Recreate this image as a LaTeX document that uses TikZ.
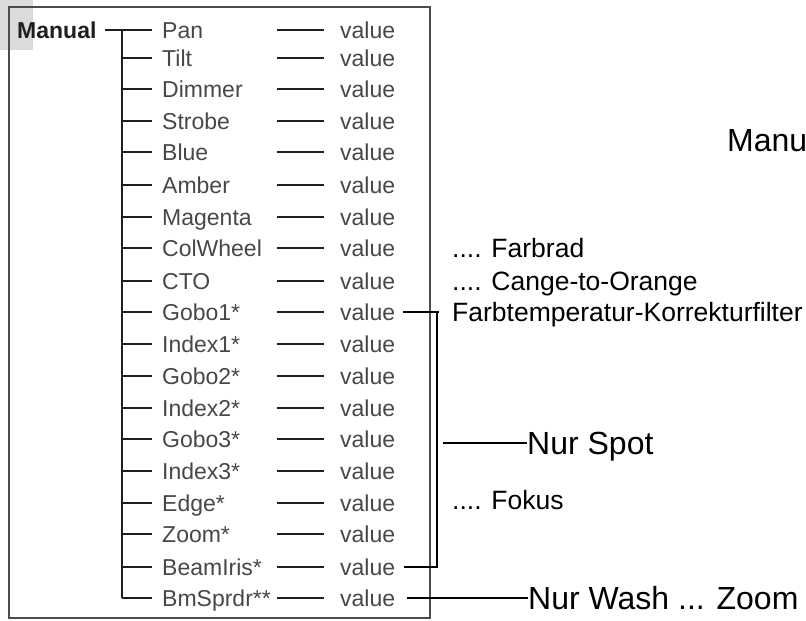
\documentclass[tikz,border=0pt]{standalone}
\usepackage{fontspec}
\setmainfont{Liberation Sans}
\begin{document}
\begin{tikzpicture}[x=1pt,y=-1pt,
  frame/.style={draw=black!70,line width=2pt},
  tree/.style={draw=black!88,line width=2pt},
  link/.style={draw=black,line width=2pt},
  treelbl/.style={inner sep=0pt,anchor=base west,text=black!72,
    font=\fontsize{23}{23}\selectfont},
  rootlbl/.style={inner sep=0pt,anchor=base west,text=black!88,
    font=\fontsize{23}{23}\selectfont\bfseries},
  note/.style={inner sep=0pt,anchor=base west,text=black,
    font=\fontsize{26.5}{26.5}\selectfont},
  bignote/.style={inner sep=0pt,anchor=base west,text=black,
    font=\fontsize{32}{32}\selectfont}]
\useasboundingbox (0,0) rectangle (806,621);

% shaded corner tab and the frame around the tree
\fill[black!14] (0,0) rectangle (33,50);
\draw[frame] (9,7) rectangle (430,618);

% root of the tree
\node[rootlbl] (root) at (17,38.4) {Manual};
\coordinate (rootend) at (105,30);
\coordinate (trunktop) at (122,30);
\coordinate (trunkbot) at (122,598);
\draw[tree] (rootend) -- (152,30);
\draw[tree] (trunktop) -- (trunkbot);

% channels: index / label / row height
\foreach \i/\lab/\y in {1/Pan/30, 2/Tilt/58, 3/Dimmer/89, 4/Strobe/121,
    5/Blue/152, 6/Amber/185, 7/Magenta/217, 8/ColWheel/248,
    9/CTO/281, 10/Gobo1*/312, 11/Index1*/344, 12/Gobo2*/376,
    13/Index2*/408, 14/Gobo3*/439, 15/Index3*/471, 16/Edge*/503,
    17/Zoom*/534, 18/BeamIris*/567, 19/BmSprdr**/598} {
  \coordinate (j\i) at (122,\y);
  \coordinate (b\i) at (152,\y);
  \node[treelbl] (l\i) at (162,\y+8.2) {\lab};
  \coordinate (ds\i) at (277,\y);
  \coordinate (de\i) at (324,\y);
  \node[treelbl] (v\i) at (340,\y+8.2) {value};
  \draw[tree] (j\i) -- (b\i);
  \draw[tree] (ds\i) -- (de\i);
}

% bracket grouping the spot-only channels
\coordinate (gA) at (403,312);
\coordinate (gAe) at (439,312);
\coordinate (gB) at (404,567);
\coordinate (gTop) at (437,312);
\coordinate (gBot) at (437,567);
\draw[link] (gA) -- (gAe);
\draw[link] (gB) -- (gBot) -- (gTop);
\coordinate (spotA) at (443,443);
\node[bignote] (spot) at (527,454.5) {Nur Spot};
\draw[link] (spotA) -- (spot.west |- spotA);

% wash-only channel
\coordinate (washA) at (407,598);
\node[bignote] (wash) at (528,609.5) {Nur Wash ... Zoom};
\draw[link] (washA) -- (wash.west |- washA);

% explanatory notes
\node[note] (n1) at (452,257) {.... Farbrad};
\node[note] (n2) at (452,290) {.... Cange-to-Orange};
\node[note] (n3) at (452,321) {Farbtemperatur-Korrekturfilter};
\node[note] (n4) at (452,509) {.... Fokus};
\node[bignote] (title) at (727,151) {Manu};
\end{tikzpicture}
\end{document}
